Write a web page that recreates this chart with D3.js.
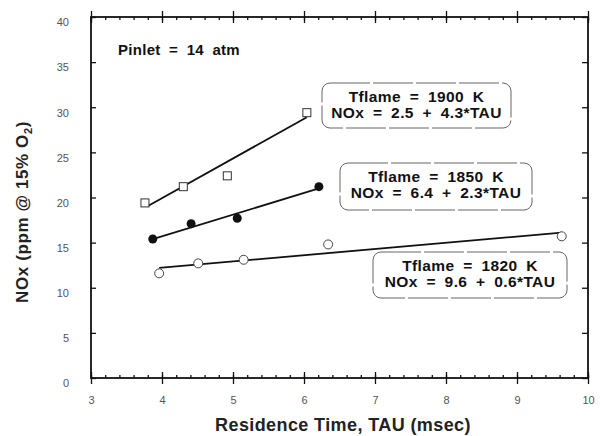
<!DOCTYPE html>
<html>
<head>
<meta charset="utf-8">
<script src="https://cdn.jsdelivr.net/npm/d3@7"></script>
<style>
    body { margin: 0; background: #fff; }
    svg { display: block; font-family: "Liberation Sans", Arial, sans-serif; }
</style>
</head>
<body>
<svg id="chart" width="610" height="436"></svg>
<script>
// tick values
const tauTicks = [3, 4, 5, 6, 7, 8, 9, 10];
const noxTicks = [0, 5, 10, 15, 20, 25, 30, 35, 40];

const tau1900 = [3.76, 4.30, 4.92, 6.04];
const nox1900 = [19.4, 21.2, 22.4, 29.4];
const tau1850 = [3.87, 4.41, 5.06, 6.21];
const nox1850 = [15.4, 17.1, 17.7, 21.2];
const tau1820 = [3.96, 4.51, 5.15, 6.34, 9.63];
const nox1820 = [11.6, 12.7, 13.1, 14.8, 15.7];

// end points of the drawn fit lines
const fitTau1900 = [3.79, 6.04];
const fitNox1900 = [19.0, 28.9];
const fitTau1850 = [3.87, 6.21];
const fitNox1850 = [15.4, 21.0];
const fitTau1820 = [3.96, 9.63];
const fitNox1820 = [12.2, 16.1];

const legend1900 = ["Tflame = 1900 K", "NOx = 2.5 + 4.3*TAU"];
const legend1850 = ["Tflame = 1850 K", "NOx = 6.4 + 2.3*TAU"];
const legend1820 = ["Tflame = 1820 K", "NOx = 9.6 + 0.6*TAU"];

const svg = d3.select("#chart");
const x = d3.scaleLinear().domain([3, 10]).range([91, 588]);
const y = d3.scaleLinear().domain([0, 40]).range([378, 17]);
const minorTau = d3.range(3, 10.001, 0.2);

const zip = (a, b) => a.map((v, i) => [v, b[i]]);

function styleAxis(g) {
    g.select(".domain").remove();
    g.selectAll(".tick line").attr("stroke", "#111").attr("stroke-width", 1.3);
}

// frame
svg.append("rect")
    .attr("x", x(3)).attr("y", y(40))
    .attr("width", x(10) - x(3)).attr("height", y(0) - y(40))
    .attr("fill", "none").attr("stroke", "#111").attr("stroke-width", 1.8);

// bottom axis: minor ticks inward, major ticks crossing
svg.append("g").attr("transform", `translate(0,${y(0)})`)
    .call(d3.axisBottom(x).tickValues(minorTau).tickSize(-3).tickFormat(""))
    .call(styleAxis);
svg.append("g").attr("transform", `translate(0,${y(0)})`)
    .call(d3.axisBottom(x).tickValues(tauTicks).tickSize(-6).tickFormat(""))
    .call(styleAxis);
svg.append("g").attr("transform", `translate(0,${y(0)})`)
    .call(d3.axisBottom(x).tickValues(tauTicks).tickSize(6).tickPadding(12).tickFormat(d3.format("d")))
    .call(styleAxis)
    .call(g => g.selectAll(".tick text").attr("fill", "#555").attr("font-size", 11).attr("font-family", "Liberation Sans, Arial, sans-serif"));

// top axis
svg.append("g").attr("transform", `translate(0,${y(40)})`)
    .call(d3.axisTop(x).tickValues(minorTau).tickSize(-3).tickFormat(""))
    .call(styleAxis);
svg.append("g").attr("transform", `translate(0,${y(40)})`)
    .call(d3.axisTop(x).tickValues(tauTicks).tickSize(6).tickFormat(""))
    .call(styleAxis);
svg.append("g").attr("transform", `translate(0,${y(40)})`)
    .call(d3.axisTop(x).tickValues(tauTicks).tickSize(-6).tickFormat(""))
    .call(styleAxis);

// left axis
svg.append("g").attr("transform", `translate(${x(3)},0)`)
    .call(d3.axisLeft(y).tickValues(noxTicks).tickSize(-5).tickPadding(22))
    .call(styleAxis)
    .call(g => g.selectAll(".tick text").attr("fill", "#555").attr("font-size", 11)
        .attr("font-family", "Liberation Sans, Arial, sans-serif").attr("dy", "0.8em"));

// right axis
svg.append("g").attr("transform", `translate(${x(10)},0)`)
    .call(d3.axisRight(y).tickValues(noxTicks).tickSize(-6).tickFormat(""))
    .call(styleAxis);

// fit lines
const line = d3.line().x(d => x(d[0])).y(d => y(d[1]));
[[fitTau1900, fitNox1900], [fitTau1850, fitNox1850], [fitTau1820, fitNox1820]].forEach(([t, n]) => {
    svg.append("path")
        .attr("d", line(zip(t, n)))
        .attr("fill", "none").attr("stroke", "#111").attr("stroke-width", 1.8);
});

// 1900 K: open squares
svg.selectAll(".sq")
    .data(zip(tau1900, nox1900))
    .join("rect")
    .attr("class", "sq")
    .attr("x", d => x(d[0]) - 4).attr("y", d => y(d[1]) - 4)
    .attr("width", 8).attr("height", 8)
    .attr("fill", "#fff").attr("stroke", "#333").attr("stroke-width", 1);

// 1850 K: filled circles
svg.selectAll(".fc")
    .data(zip(tau1850, nox1850))
    .join("circle")
    .attr("class", "fc")
    .attr("cx", d => x(d[0])).attr("cy", d => y(d[1]))
    .attr("r", 4.5).attr("fill", "#111");

// 1820 K: open circles
svg.selectAll(".oc")
    .data(zip(tau1820, nox1820))
    .join("circle")
    .attr("class", "oc")
    .attr("cx", d => x(d[0])).attr("cy", d => y(d[1]))
    .attr("r", 4.5).attr("fill", "#fff").attr("stroke", "#444").attr("stroke-width", 1);

// legend boxes
function drawLegend(lines, bx, by, bw, bh) {
    svg.append("rect")
        .attr("x", bx).attr("y", by).attr("width", bw).attr("height", bh)
        .attr("rx", 8).attr("ry", 8)
        .attr("fill", "#fff").attr("stroke", "#666").attr("stroke-width", 1)
        .attr("stroke-dasharray", "40 3");
    svg.append("g")
        .selectAll("text")
        .data(lines)
        .join("text")
        .attr("x", bx + bw / 2)
        .attr("y", (d, i) => by + 19 + i * 16)
        .attr("text-anchor", "middle")
        .attr("font-size", 15.5).attr("font-weight", "bold").attr("fill", "#111")
        .attr("letter-spacing", 0.4).attr("word-spacing", 4)
        .text(d => d);
}
drawLegend(legend1900, 322, 83, 189, 45);
drawLegend(legend1850, 340, 163, 192, 47);
drawLegend(legend1820, 373, 252, 194, 46);

// annotation
svg.append("text")
    .attr("x", 118).attr("y", 55)
    .attr("font-size", 15).attr("font-weight", "bold").attr("fill", "#111")
    .attr("letter-spacing", 0.3).attr("word-spacing", 4)
    .text("Pinlet = 14 atm");

// axis titles
svg.append("text")
    .attr("x", 343).attr("y", 431)
    .attr("text-anchor", "middle")
    .attr("font-size", 18).attr("font-weight", "bold").attr("fill", "#222")
    .attr("letter-spacing", 0.4)
    .text("Residence Time, TAU (msec)");

const yTitle = svg.append("text")
    .attr("transform", "translate(28,212) rotate(-90)")
    .attr("text-anchor", "middle")
    .attr("font-size", 17).attr("font-weight", "bold").attr("fill", "#222")
    .attr("letter-spacing", 0.6);
yTitle.append("tspan").text("NOx (ppm @ 15% O");
yTitle.append("tspan").attr("font-size", 11).attr("dy", 4).text("2");
yTitle.append("tspan").attr("dy", -4).text(")");
</script>
</body>
</html>
